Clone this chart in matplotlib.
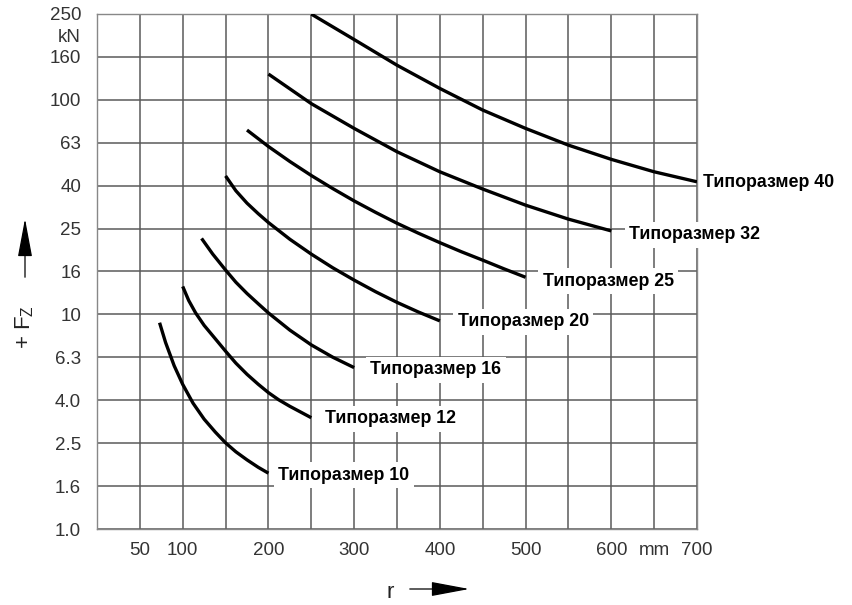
import matplotlib
matplotlib.use("Agg")
import matplotlib.pyplot as plt
from matplotlib.patches import FancyArrowPatch

plt.rcParams['font.family'] = ['Liberation Sans', 'DejaVu Sans']
plt.rcParams['mathtext.fontset'] = 'custom'
plt.rcParams['mathtext.rm'] = 'Liberation Sans'
plt.rcParams['mathtext.it'] = 'Liberation Sans'

# ---- data (r in mm, Fz in kN) ----
r10 = [73, 80, 90, 100, 112, 125, 138, 150, 162, 175, 188, 200]
f10 = [9.15, 7.40, 5.77, 4.72, 3.86, 3.25, 2.83, 2.52, 2.29, 2.10, 1.94, 1.82]

r12 = [100, 107, 115, 125, 138, 150, 162, 175, 188, 200, 212, 225, 238, 250]
f12 = [13.5, 11.61, 10.17, 8.89, 7.70, 6.74, 5.93, 5.26, 4.73, 4.32, 4.00, 3.73, 3.50, 3.30]

r16 = [122, 135, 150, 162, 175, 188, 200, 225, 250, 275, 300]
f16 = [22.6, 19.11, 16.10, 14.13, 12.52, 11.22, 10.16, 8.45, 7.21, 6.32, 5.65]

r20 = [150, 162, 175, 188, 200, 225, 250, 275, 300, 325, 350, 375, 400]
f20 = [44.2, 37.7, 33.0, 29.5, 26.8, 22.4, 19.1, 16.5, 14.45, 12.76, 11.38, 10.26, 9.33]

r25 = [175, 200, 225, 250, 275, 300, 325, 350, 375, 400, 425, 450, 475, 500]
f25 = [72.3, 60.6, 51.6, 44.4, 38.6, 33.8, 29.9, 26.6, 23.9, 21.6, 19.6, 17.9, 16.3, 14.9]

r32 = [200, 250, 300, 350, 400, 450, 500, 550, 600]
f32 = [131.9, 96.0, 73.6, 57.3, 46.2, 38.4, 32.3, 27.8, 24.5]

r40 = [250, 300, 350, 400, 450, 500, 550, 600, 650, 700]
f40 = [251, 191, 145, 113, 89.6, 73.6, 61.5, 52.8, 46.2, 41.5]

series_names = ['Типоразмер 10', 'Типоразмер 12', 'Типоразмер 16', 'Типоразмер 20',
                'Типоразмер 25', 'Типоразмер 32', 'Типоразмер 40']

x_ticks = [50, 100, 150, 200, 250, 300, 350, 400, 450, 500, 550, 600, 650, 700]
x_tick_labels = ['50', '100', '', '200', '', '300', '', '400', '', '500', '', '600', 'mm', '700']
y_ticks = [1.0, 1.585, 2.512, 3.981, 6.310, 10.0, 15.85, 25.12, 39.81, 63.10, 100.0, 158.5, 251.2]
y_tick_labels = ['1.0', '1.6', '2.5', '4.0', '6.3', '10', '16', '25', '40', '63', '100', '160', '250']

# ---- style / layout ----
label_dx_px = [10, 14, 16, 18, 17, 18, 6]
label_dy_px = [-2, -1, -2, -1, -4, -4, -1]

W, H = 853, 605
fig = plt.figure(figsize=(W / 100, H / 100), dpi=100)
ax = fig.add_axes([97 / W, 1 - 529 / H, 600 / W, 515 / H])

grid_c = '#5a5a5a'
ax.set_yscale('log')
ax.set_xlim(0, 700)
ax.set_ylim(1.0, 251.2)
ax.set_xticks(x_ticks)
ax.set_xticklabels(x_tick_labels)
ax.set_yticks(y_ticks)
ax.set_yticklabels(y_tick_labels)
ax.yaxis.set_minor_locator(matplotlib.ticker.NullLocator())
ax.tick_params(length=0, labelsize=13.5, colors='#333333')
ax.tick_params(axis='y', pad=11.5)
ax.tick_params(axis='x', pad=9.5)
ax.grid(True, color=grid_c, linewidth=1.1)
ax.set_axisbelow(True)
for s in ax.spines.values():
    s.set_color('#888888')
    s.set_linewidth(1.0)

series = [(r10, f10), (r12, f12), (r16, f16), (r20, f20), (r25, f25), (r32, f32), (r40, f40)]
for (rr, ff), name, dx, dy in zip(series, series_names, label_dx_px, label_dy_px):
    ax.plot(rr, ff, color='black', linewidth=2.4, solid_capstyle='butt',
            solid_joinstyle='round', clip_on=True, zorder=3)
    ax.annotate(name, xy=(rr[-1], ff[-1]), xytext=(dx * 0.72, dy * 0.72),
                textcoords='offset points', ha='left', va='center',
                fontsize=12.8, fontweight='bold', color='black',
                bbox=dict(boxstyle='square,pad=0.25', fc='white', ec='none'),
                annotation_clip=False, zorder=4)

# kN unit
fig.text(81 / W, 1 - 38 / H, 'kN', ha='right', va='center', fontsize=13.5, color='#333333')

# y-axis label with arrow
fig.text(25 / W, 1 - 327 / H, r'+ F$_\mathregular{Z}$', rotation=90, ha='center', va='center',
         fontsize=16, color='#222222')
fig.add_artist(FancyArrowPatch((25 / W, 1 - 280 / H), (25 / W, 1 - 216 / H),
                               transform=fig.transFigure,
                               arrowstyle='-|>,head_length=2.4,head_width=0.45',
                               mutation_scale=10, color='black', linewidth=0.9))

# x-axis label with arrow
fig.text(390 / W, 1 - 593 / H, 'r', ha='center', va='center', fontsize=16, color='#222222')
fig.add_artist(FancyArrowPatch((407 / W, 1 - 589 / H), (472 / W, 1 - 589 / H),
                               transform=fig.transFigure,
                               arrowstyle='-|>,head_length=2.4,head_width=0.45',
                               mutation_scale=10, color='black', linewidth=0.9))

fig.savefig('out.png', dpi=100, facecolor='white')
